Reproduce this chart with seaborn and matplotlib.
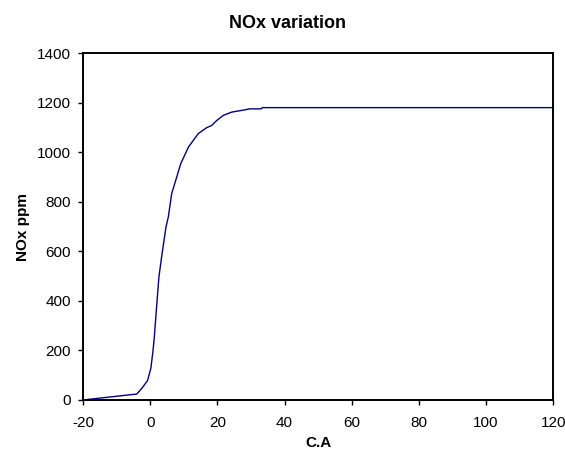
import numpy as np
import pandas as pd
import seaborn as sns
import matplotlib
matplotlib.use("Agg")
import matplotlib.pyplot as plt

# crank angle vs NOx
crank_angle = [-20, -4.0, -2.5, -0.8, 0.2, 0.8, 1.2, 1.9, 2.6, 3.4, 4.7, 5.4, 6.4,
               7.9, 9.1, 11.4, 14.3, 16.8, 18.3, 19.8, 21.8, 24.3, 27.3, 29.7,
               33.0, 33.4, 120]
nox_ppm = [0, 24, 47, 78, 128, 195, 249, 376, 497, 578, 698, 739, 833,
           900, 954, 1021, 1075, 1099, 1108, 1128, 1149, 1162, 1169, 1175,
           1175, 1180, 1180]

df = pd.DataFrame({"C.A": crank_angle, "NOx ppm": nox_ppm})

sns.set_theme(style="white", rc={"text.color": "black", "axes.labelcolor": "black",
                                 "xtick.color": "black", "ytick.color": "black"})
plt.rcParams['font.family'] = ['Liberation Sans', 'DejaVu Sans']
plt.rcParams['axes.unicode_minus'] = False

fig = plt.figure(figsize=(5.65, 4.54), dpi=100)
ax = fig.add_axes([0.147, 0.119, 0.832, 0.764])

sns.lineplot(data=df, x="C.A", y="NOx ppm", color="#000080", linewidth=1.0,
             estimator=None, sort=False, ax=ax)

ax.set_xlim(-20, 120)
ax.set_ylim(0, 1400)
ax.set_xticks(np.arange(-20, 121, 20))
ax.set_yticks(np.arange(0, 1401, 200))
ax.tick_params(axis="both", direction="out", length=3.5, width=1, color="black",
               labelsize=11, bottom=True, left=True)
ax.tick_params(axis="x", pad=8)
ax.tick_params(axis="y", pad=5)
for s in ax.spines.values():
    s.set_color("black")
    s.set_linewidth(1.4)

# Excel-style chart title, centred on the whole figure
fig.text(0.508, 0.948, "NOx variation", fontsize=13, fontweight="bold",
         ha="center", va="center", color="black")
ax.set_xlabel("C.A", fontsize=11, fontweight="bold", labelpad=4)
ax.set_ylabel("NOx ppm", fontsize=11, fontweight="bold", labelpad=5)

fig.savefig("out.png", dpi=100)
